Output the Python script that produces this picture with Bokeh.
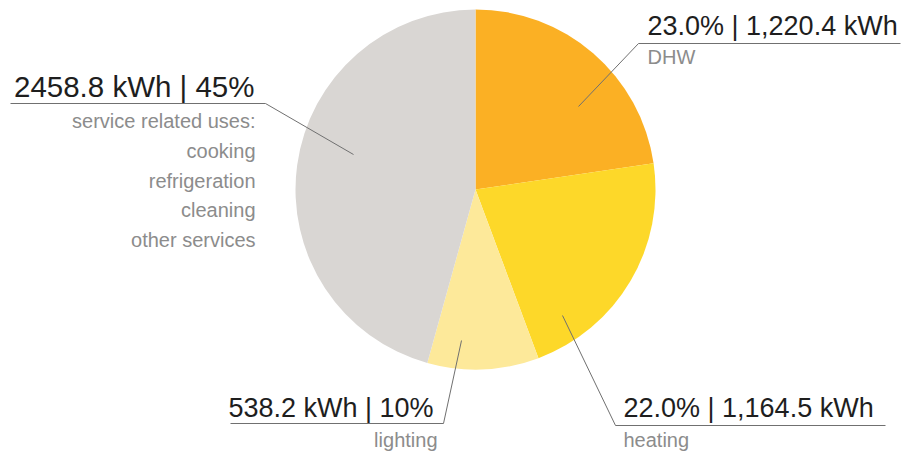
import math
from bokeh.plotting import figure
from bokeh.models import Range1d, ColumnDataSource
from bokeh.core.properties import value
from bokeh.embed import file_html
from bokeh.resources import INLINE

# ---- data ----
categories = ["DHW", "heating", "lighting", "service related uses"]
kwh = [1220.4, 1164.5, 538.2, 2458.8]
pct_labels = ["23.0%", "22.0%", "10%", "45%"]
colors = ["#FBB024", "#FDD829", "#FDE99A", "#D9D6D3"]
service_items = ["service related uses:", "cooking", "refrigeration", "cleaning", "other services"]

W, H = 905, 456
p = figure(width=W, height=H, output_backend="svg", toolbar_location=None,
           x_range=Range1d(0, W), y_range=Range1d(0, H), min_border=0)
p.axis.visible = False
p.grid.visible = False
p.outline_line_color = None
p.background_fill_color = "white"

def P(X, Y):
    return X, H - Y

# pie
total = sum(kwh)
starts, ends = [], []
cum = 0.0
for v in kwh:
    a0 = cum / total
    cum += v
    a1 = cum / total
    starts.append(math.pi / 2 - 2 * math.pi * a1)
    ends.append(math.pi / 2 - 2 * math.pi * a0)
cx, cy = P(475, 189)
src = ColumnDataSource(dict(start=starts, end=ends, color=colors,
                            x=[cx] * len(kwh), y=[cy] * len(kwh)))
p.wedge(x="x", y="y", radius=180, radius_units="screen", start_angle="start",
        end_angle="end", fill_color="color", line_color=None, source=src)

# leader lines
leaders = [
    [(10, 103), (265, 103), (353, 154)],
    [(900, 43), (638, 43), (578, 106)],
    [(885, 425), (615, 425), (562, 315)],
    [(230, 423), (443, 423), (461, 340)],
]
for pts in leaders:
    xs = [P(*q)[0] for q in pts]
    ys = [P(*q)[1] for q in pts]
    p.line(xs, ys, line_color="#707070", line_width=1)

font = value("Liberation Sans")
main_color = "#1e1e1e"
sub_color = "#8c8c8c"

def txt(X, Y, s, size, color, align):
    x, y = P(X, Y - 0.36 * size)
    p.text(x=[x], y=[y], text=[s], text_font=font, text_font_size=f"{size}px",
           text_color=color, text_align=align, text_baseline="alphabetic")

# DHW
txt(647, 35, f"{pct_labels[0]} | {kwh[0]:,.1f} kWh", 27, main_color, "left")
txt(647, 64, categories[0], 20, sub_color, "left")
# heating
txt(623, 417, f"{pct_labels[1]} | {kwh[1]:,.1f} kWh", 27, main_color, "left")
txt(623, 447, categories[1], 20, sub_color, "left")
# lighting
txt(433, 417, f"{kwh[2]:.1f} kWh | {pct_labels[2]}", 27, main_color, "right")
txt(437, 447, categories[2], 20, sub_color, "right")
# service
txt(254, 97, f"{kwh[3]:.1f} kWh | {pct_labels[3]}", 29.5, main_color, "right")
for i, s in enumerate(service_items):
    txt(255, 128 + i * 29.7, s, 20, sub_color, "right")

open("out.html", "w").write(file_html(p, INLINE))
